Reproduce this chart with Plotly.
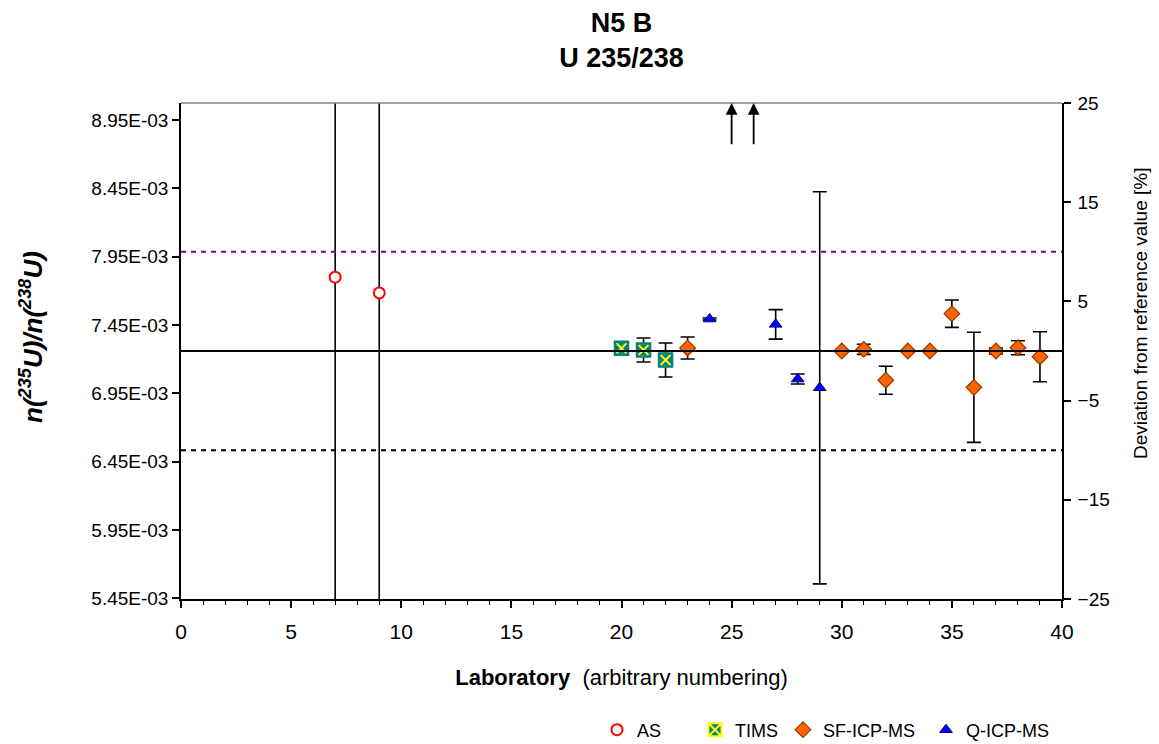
import plotly.graph_objects as go

# ---------------- data ----------------
ref_value = 7.26e-3          # reference value of n(235U)/n(238U)
limit_pct = [10, -10]        # +/- deviation lines [%]

as_labs = [7, 9]
as_vals = [7.800e-3, 7.685e-3]
as_err = [2.5e-3, 2.5e-3]

tims_labs = [20, 21, 22]
tims_vals = [7.280e-3, 7.267e-3, 7.194e-3]
tims_err = [4.4e-5, 8.8e-5, 1.24e-4]

sf_labs = [23, 30, 31, 32, 33, 34, 35, 36, 37, 38, 39]
sf_vals = [7.282e-3, 7.260e-3, 7.272e-3, 7.046e-3, 7.260e-3, 7.260e-3,
           7.533e-3, 6.994e-3, 7.260e-3, 7.284e-3, 7.218e-3]
sf_err = [8.0e-5, 5e-6, 3.7e-5, 1.02e-4, 5e-6, 5e-6,
          1.0e-4, 4.03e-4, 2.2e-5, 5.1e-5, 1.83e-4]

q_labs = [24, 27, 28, 29]
q_vals = [7.494e-3, 7.455e-3, 7.055e-3, 6.991e-3]
q_err = [7e-6, 1.08e-4, 3.7e-5, 1.435e-3]

offscale_labs = [25, 26]          # results above the displayed range
offscale_arrow_from_pct = [20.7, 20.7]

left_tickvals = [5.45e-3, 5.95e-3, 6.45e-3, 6.95e-3, 7.45e-3, 7.95e-3, 8.45e-3, 8.95e-3]
left_ticktext = ["5.45E-03", "5.95E-03", "6.45E-03", "6.95E-03",
                 "7.45E-03", "7.95E-03", "8.45E-03", "8.95E-03"]
right_tickvals = [-25, -15, -5, 5, 15, 25]
x_range = [0, 40]

FONT = "Liberation Sans, Arial, sans-serif"
W, H = 1159, 744
ML, MR, MT, MB = 181, 97, 103, 145
PW = W - ML - MR
PH = H - MT - MB

fig = go.Figure()

# reference line and +/-10 % lines on the deviation axis
fig.add_trace(go.Scatter(x=x_range, y=[0, 0], yaxis="y2", mode="lines",
                         line=dict(color="black", width=2), showlegend=False,
                         hoverinfo="skip"))
fig.add_trace(go.Scatter(x=x_range, y=[limit_pct[0]] * 2, yaxis="y2", mode="lines",
                         line=dict(color="#800080", width=2, dash="5px,5px"),
                         showlegend=False, hoverinfo="skip"))
fig.add_trace(go.Scatter(x=x_range, y=[limit_pct[1]] * 2, yaxis="y2", mode="lines",
                         line=dict(color="black", width=2, dash="5px,5px"),
                         showlegend=False, hoverinfo="skip"))

eb = dict(type="data", color="black", thickness=1.6, width=7)

fig.add_trace(go.Scatter(
    x=as_labs, y=as_vals, mode="markers", name="AS", legend="legend",
    error_y=dict(eb, array=as_err, width=0),
    marker=dict(symbol="circle", size=11, color="white",
                line=dict(color="#FF0000", width=2)),
    cliponaxis=False))

fig.add_trace(go.Scatter(
    x=tims_labs, y=tims_vals, mode="markers", name="TIMS", legend="legend2",
    error_y=dict(eb, array=tims_err),
    marker=dict(symbol="square-x", size=13, color="#008080",
                line=dict(color="#FFFF00", width=2))))
fig.add_trace(go.Scatter(
    x=tims_labs, y=tims_vals, mode="markers", name="TIMS", showlegend=False,
    marker=dict(symbol="square-open", size=13, color="#008080",
                line=dict(color="#008080", width=2.5))))

fig.add_trace(go.Scatter(
    x=sf_labs, y=sf_vals, mode="markers", name="SF-ICP-MS", legend="legend3",
    error_y=dict(eb, array=sf_err),
    marker=dict(symbol="diamond", size=12, color="#FF6600",
                line=dict(color="#993300", width=1.2))))

fig.add_trace(go.Scatter(
    x=q_labs, y=q_vals, mode="markers", name="Q-ICP-MS", legend="legend4",
    error_y=dict(eb, array=q_err),
    marker=dict(symbol="triangle-up", size=11, color="#0000FF",
                line=dict(color="#000080", width=1))))

# arrows for off-scale results
for lab, p in zip(offscale_labs, offscale_arrow_from_pct):
    fig.add_annotation(x=lab, y=25, xref="x", yref="y2",
                       ax=lab, ay=p, axref="x", ayref="y2",
                       showarrow=True, arrowhead=2, arrowsize=1.3,
                       arrowwidth=1.8, arrowcolor="black", text="")

# axis titles placed as in the reference
fig.add_annotation(text="<b><i>n(<sup>235</sup>U)/n(<sup>238</sup>U)</i></b>",
                   textangle=-90, xref="paper", yref="paper",
                   x=(31 - ML) / PW, y=(H - MB - 337) / PH,
                   xanchor="center", yanchor="middle", showarrow=False,
                   font=dict(size=26, family=FONT))
fig.add_annotation(text="Deviation from reference value [%]",
                   textangle=-90, xref="paper", yref="paper",
                   x=(1140 - ML) / PW, y=(H - MB - 314) / PH,
                   xanchor="center", yanchor="middle", showarrow=False,
                   font=dict(size=19, family=FONT))

# grey top border of plot area
fig.add_shape(type="line", xref="x domain", yref="y domain",
              x0=0, x1=1, y0=1, y1=1, line=dict(color="#808080", width=1.5))


def leg(left_px):
    return dict(orientation="h", x=(left_px - ML) / PW, xanchor="left",
                xref="paper", y=1 - 730 / H, yref="container", yanchor="middle",
                font=dict(size=18, family=FONT), bgcolor="rgba(0,0,0,0)",
                itemwidth=30)


fig.update_layout(
    width=W, height=H, autosize=False,
    margin=dict(l=ML, r=MR, t=MT, b=MB, autoexpand=False),
    paper_bgcolor="white", plot_bgcolor="white",
    font=dict(family=FONT, color="black", size=18),
    title=dict(text="<b>N5 B<br>U 235/238</b>", x=0.5, xref="paper",
               y=1 - 32 / H, yref="container", yanchor="top",
               font=dict(size=27, family=FONT)),
    xaxis=dict(range=x_range, tick0=0, dtick=5, ticks="outside", ticklen=7,
               tickwidth=1.5, tickcolor="black", showline=True, linecolor="black",
               linewidth=1.5, showgrid=False, zeroline=False, automargin=False,
               tickfont=dict(size=21), ticklabelstandoff=6,
               minor=dict(dtick=1, ticks="outside", ticklen=4, tickcolor="black",
                          tickwidth=1),
               title=dict(text="<b>Laboratory</b>&nbsp;&nbsp;<span style='font-size:22px'>(arbitrary numbering)</span>",
                          font=dict(size=22), standoff=28)),
    yaxis=dict(range=[0.75 * ref_value, 1.25 * ref_value],
               tickvals=left_tickvals, ticktext=left_ticktext,
               ticks="outside", ticklen=7, tickwidth=1.5, tickcolor="black",
               showline=True, linecolor="black", linewidth=1.5, automargin=False,
               showgrid=False, zeroline=False, tickfont=dict(size=19)),
    yaxis2=dict(range=[-25, 25], overlaying="y", side="right",
                tickvals=right_tickvals, ticks="outside", ticklen=7,
                tickwidth=1.5, tickcolor="black", automargin=False,
                showline=True, linecolor="black", linewidth=1.5,
                showgrid=False, zeroline=False, tickfont=dict(size=19),
                ticklabelstandoff=3),
    legend=leg(597),
    legend2=leg(695),
    legend3=leg(783),
    legend4=leg(926),
    showlegend=True,
)

fig.write_html("out.html")
